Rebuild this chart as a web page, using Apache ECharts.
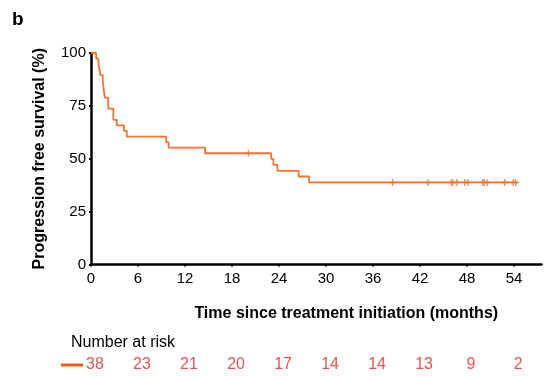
<!DOCTYPE html>
<html>
<head>
<meta charset="utf-8">
<script src="https://cdn.jsdelivr.net/npm/echarts@6/dist/echarts.min.js"></script>
<style>
  html, body { margin: 0; padding: 0; background: #fff; }
  #chart { width: 553px; height: 376px; }
</style>
</head>
<body>
<div id="chart"></div>
<script>
// KM curve
const stepTimes = [0, 0.65, 0.95, 1.2, 1.5, 1.75, 2.2, 2.85, 3.28, 4.21, 4.56, 9.6, 9.9, 14.56, 22.99, 23.28, 23.8, 26.5, 27.84, 54.5];
const stepSurv = [100, 97.4, 94.7, 89.5, 86.8, 78.9, 73.7, 68.4, 65.8, 63.2, 60.5, 57.9, 55.3, 52.6, 49.9, 47.1, 44.3, 41.6, 38.8, 38.8];
const censorTimes = [20.1, 38.5, 43.0, 46.0, 46.2, 46.7, 47.7, 48.1, 50.0, 50.2, 50.6, 52.8, 53.9, 54.2];
const xTicks = [0, 6, 12, 18, 24, 30, 36, 42, 48, 54];
const atRisk = [38, 23, 21, 20, 17, 14, 14, 13, 9, 2];

const lineColor = '#f07534';
const riskColor = '#e02a2a';

// survival level at time t (step lookup)
function survAt(t) {
  let s = stepSurv[0];
  for (let i = 0; i < stepTimes.length; i++) {
    if (stepTimes[i] <= t) s = stepSurv[i];
  }
  return s;
}

const chart = echarts.init(document.getElementById('chart'));
chart.setOption({
  animation: false,
  textStyle: { fontFamily: 'Liberation Sans, Arial, sans-serif', color: '#000' },
  title: [
    { text: 'b', left: 7, top: 5, textStyle: { fontSize: 19, fontWeight: 'bold', color: '#000' } },
    { text: 'Number at risk', left: 66, top: 330, textStyle: { fontSize: 16, fontWeight: 'normal', color: '#000' } }
  ],
  grid: [
    { left: 91, right: 11.5, top: 53, bottom: 111.5 },
    { left: 95, right: 7.5, top: 355, height: 20 }
  ],
  xAxis: [{
    type: 'value',
    min: 0,
    max: 57.5,
    interval: 6,
    name: 'Time since treatment initiation (months)',
    nameLocation: 'middle',
    nameGap: 41,
    nameTextStyle: { fontSize: 16, fontWeight: 'bold', color: '#000', padding: [0, 0, 0, 60] },
    axisLine: { lineStyle: { color: '#000', width: 2.5 } },
    axisTick: { show: true, length: 2, lineStyle: { color: '#000', width: 2 }, customValues: xTicks },
    axisLabel: { fontSize: 15, color: '#000', margin: 7, customValues: xTicks },
    splitLine: { show: false }
  }, {
    gridIndex: 1,
    type: 'value',
    min: 0,
    max: 57.5,
    show: false
  }],
  yAxis: [{
    type: 'value',
    min: 0,
    max: 100,
    interval: 25,
    name: 'Progression free survival (%)',
    nameLocation: 'middle',
    nameGap: 43,
    nameTextStyle: { fontSize: 16, fontWeight: 'bold', color: '#000' },
    axisLine: { show: true, lineStyle: { color: '#000', width: 2.5 } },
    axisTick: { show: true, length: 2, lineStyle: { color: '#000', width: 2 } },
    axisLabel: { fontSize: 15, color: '#000', margin: 5 },
    splitLine: { show: false }
  }, {
    gridIndex: 1,
    type: 'value',
    min: 0,
    max: 1,
    show: false
  }],
  graphic: [{
    type: 'rect',
    shape: { x: 61, y: 363.5, width: 22, height: 3 },
    style: { fill: '#f05a1e' }
  }],
  series: [{
    type: 'line',
    step: 'end',
    data: stepTimes.map((t, i) => [t, stepSurv[i]]),
    showSymbol: false,
    lineStyle: { color: lineColor, width: 1.8 }
  }, {
    type: 'scatter',
    data: censorTimes.map(t => [t, survAt(t)]),
    symbol: 'path://M4,0h2v4h4v2h-4v4h-2v-4h-4v-2h4z',
    symbolSize: 7,
    itemStyle: { color: lineColor }
  }, {
    type: 'scatter',
    xAxisIndex: 1,
    yAxisIndex: 1,
    data: xTicks.map((t, i) => [t, 0.5, atRisk[i]]),
    symbolSize: 0,
    label: {
      show: true,
      position: 'inside',
      fontSize: 16,
      color: riskColor,
      formatter: p => String(p.value[2])
    }
  }]
});
</script>
</body>
</html>
